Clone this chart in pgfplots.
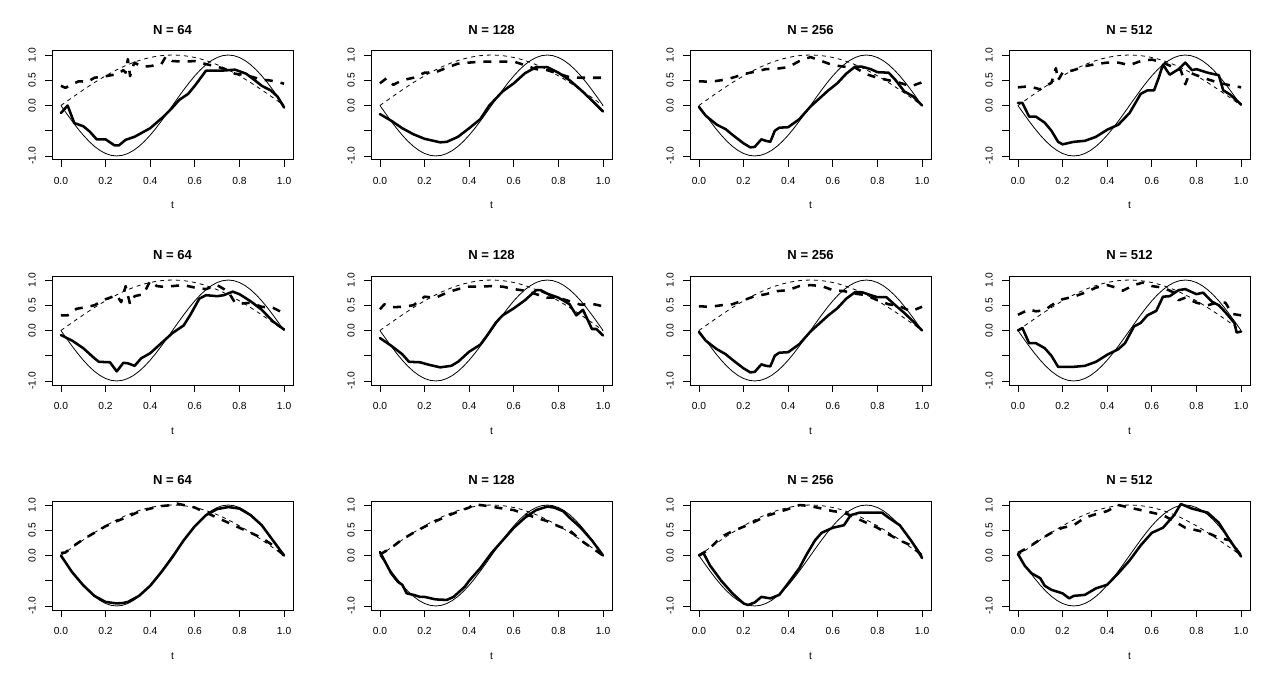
\documentclass[border=0pt]{standalone}
\usepackage{fontspec}
\setmainfont{Liberation Sans}
\usepackage{pgfplots}
\usepackage{pgfplotstable}
\pgfplotsset{compat=1.18}

% true curves, tabulated
\pgfplotstableread{
t     f        g
0     0        0
0.025 -0.1564  0.0785
0.05  -0.3090  0.1564
0.075 -0.4540  0.2334
0.1   -0.5878  0.3090
0.125 -0.7071  0.3827
0.15  -0.8090  0.4540
0.175 -0.8910  0.5225
0.2   -0.9511  0.5878
0.225 -0.9877  0.6494
0.25  -1       0.7071
0.275 -0.9877  0.7604
0.3   -0.9511  0.8090
0.325 -0.8910  0.8526
0.35  -0.8090  0.8910
0.375 -0.7071  0.9239
0.4   -0.5878  0.9511
0.425 -0.4540  0.9724
0.45  -0.3090  0.9877
0.475 -0.1564  0.9969
0.5   0        1
0.525 0.1564   0.9969
0.55  0.3090   0.9877
0.575 0.4540   0.9724
0.6   0.5878   0.9511
0.625 0.7071   0.9239
0.65  0.8090   0.8910
0.675 0.8910   0.8526
0.7   0.9511   0.8090
0.725 0.9877   0.7604
0.75  1        0.7071
0.775 0.9877   0.6494
0.8   0.9511   0.5878
0.825 0.8910   0.5225
0.85  0.8090   0.4540
0.875 0.7071   0.3827
0.9   0.5878   0.3090
0.925 0.4540   0.2334
0.95  0.3090   0.1564
0.975 0.1564   0.0785
1     0        0
}\truth

\pgfplotsset{
  rpanel/.style={
    scale only axis, width=180.75pt, height=81.75pt,
    anchor=south west,
    xmin=-0.04, xmax=1.04, ymin=-1.08, ymax=1.08,
    xtick={0,0.2,0.4,0.6,0.8,1}, xticklabels={0.0,0.2,0.4,0.6,0.8,1.0},
    ytick={-1,-0.5,0,0.5,1}, yticklabels={-1.0,{},0.0,0.5,1.0},
    tick align=outside, xtick pos=left, ytick pos=left,
    major tick length=5.25pt,
    major tick style={black, line width=0.6pt},
    axis line style={black, line width=0.75pt},
    ticklabel style={font=\fontsize{7.7}{9}\selectfont},
    yticklabel style={rotate=90, anchor=south},
    xticklabel shift=4pt, yticklabel shift=3.5pt,
    xlabel=t,
    xlabel style={at={(axis description cs:0.5,0)}, anchor=base, yshift=-36.75pt,
      font=\fontsize{7.7}{9}\selectfont},
    title style={at={(axis description cs:0.5,1)}, anchor=base, yshift=6.5pt,
      font=\fontsize{9.8}{11}\selectfont\bfseries},
  },
  truef/.style={black, line width=0.6pt},
  trueg/.style={black, line width=0.6pt, dash pattern=on 3pt off 3pt},
  estf/.style={black, line width=1.9pt, line join=round, line cap=round},
  estg/.style={black, line width=1.9pt, line join=round, dash pattern=on 6pt off 6pt},
}

\begin{document}
\begin{tikzpicture}
\path[use as bounding box] (0,0) rectangle (957pt,506.25pt);

% ---------- row 1 ----------
\begin{axis}[rpanel, at={(39pt,386.25pt)}, title={N = 64}]
\addplot[truef] table[x=t,y=f] {\truth};
\addplot[trueg] table[x=t,y=g] {\truth};
\addplot[estf] coordinates {(0,-0.15) (0.03,0.0) (0.06,-0.35) (0.1,-0.41) (0.13,-0.52) (0.16,-0.67) (0.2,-0.67) (0.24,-0.79) (0.26,-0.79) (0.29,-0.68) (0.33,-0.62) (0.4,-0.45) (0.46,-0.22) (0.5,-0.04) (0.53,0.11) (0.57,0.23) (0.6,0.39) (0.65,0.69) (0.72,0.69) (0.78,0.71) (0.83,0.63) (0.86,0.53) (0.9,0.39) (0.94,0.3) (0.97,0.18) (1,-0.04)};
\addplot[estg] coordinates {(0,0.39) (0.02,0.35) (0.05,0.42) (0.08,0.48) (0.12,0.47) (0.15,0.55) (0.2,0.58) (0.25,0.62) (0.28,0.7) (0.29,0.65) (0.3,0.92) (0.31,0.58) (0.32,0.75) (0.33,0.85) (0.36,0.77) (0.4,0.78) (0.45,0.82) (0.47,0.97) (0.5,0.88) (0.55,0.87) (0.6,0.88) (0.65,0.82) (0.7,0.77) (0.75,0.7) (0.78,0.63) (0.83,0.6) (0.87,0.55) (0.9,0.51) (0.93,0.5) (0.97,0.47) (1,0.43)};
\end{axis}

\begin{axis}[rpanel, at={(278.25pt,386.25pt)}, title={N = 128}]
\addplot[truef] table[x=t,y=f] {\truth};
\addplot[trueg] table[x=t,y=g] {\truth};
\addplot[estf] coordinates {(0,-0.17) (0.05,-0.3) (0.1,-0.45) (0.15,-0.57) (0.2,-0.66) (0.27,-0.73) (0.3,-0.72) (0.35,-0.62) (0.4,-0.45) (0.45,-0.27) (0.49,0) (0.55,0.28) (0.6,0.44) (0.65,0.64) (0.7,0.76) (0.75,0.76) (0.8,0.65) (0.85,0.5) (0.9,0.31) (0.95,0.1) (1,-0.12)};
\addplot[estg] coordinates {(0,0.44) (0.03,0.54) (0.06,0.41) (0.1,0.5) (0.15,0.55) (0.2,0.65) (0.25,0.66) (0.3,0.75) (0.35,0.83) (0.4,0.85) (0.45,0.87) (0.5,0.87) (0.55,0.87) (0.6,0.87) (0.65,0.8) (0.7,0.72) (0.75,0.7) (0.8,0.63) (0.85,0.56) (0.9,0.55) (0.95,0.55) (1,0.55)};
\end{axis}

\begin{axis}[rpanel, at={(517.5pt,386.25pt)}, title={N = 256}]
\addplot[truef] table[x=t,y=f] {\truth};
\addplot[trueg] table[x=t,y=g] {\truth};
\addplot[estf] coordinates {(0,-0.03) (0.03,-0.2) (0.08,-0.38) (0.12,-0.47) (0.15,-0.58) (0.2,-0.75) (0.23,-0.83) (0.25,-0.82) (0.28,-0.67) (0.3,-0.7) (0.32,-0.72) (0.34,-0.5) (0.36,-0.44) (0.4,-0.43) (0.45,-0.27) (0.5,-0.02) (0.55,0.18) (0.58,0.3) (0.62,0.44) (0.66,0.63) (0.7,0.77) (0.73,0.77) (0.77,0.72) (0.8,0.66) (0.85,0.65) (0.88,0.51) (0.92,0.28) (0.96,0.18) (1,0)};
\addplot[estg] coordinates {(0,0.48) (0.05,0.47) (0.1,0.5) (0.15,0.55) (0.2,0.62) (0.25,0.67) (0.3,0.72) (0.35,0.73) (0.4,0.76) (0.45,0.88) (0.5,0.96) (0.55,0.88) (0.6,0.8) (0.65,0.77) (0.7,0.75) (0.75,0.62) (0.8,0.55) (0.85,0.5) (0.9,0.45) (0.95,0.38) (1,0.46)};
\end{axis}

\begin{axis}[rpanel, at={(756.75pt,386.25pt)}, title={N = 512}]
\addplot[truef] table[x=t,y=f] {\truth};
\addplot[trueg] table[x=t,y=g] {\truth};
\addplot[estf] coordinates {(0,0.05) (0.02,0.05) (0.05,-0.22) (0.08,-0.22) (0.12,-0.34) (0.15,-0.5) (0.18,-0.72) (0.2,-0.77) (0.25,-0.72) (0.3,-0.7) (0.35,-0.62) (0.4,-0.48) (0.45,-0.38) (0.5,-0.15) (0.52,0) (0.55,0.23) (0.58,0.3) (0.61,0.3) (0.63,0.54) (0.65,0.81) (0.68,0.61) (0.72,0.72) (0.75,0.85) (0.78,0.7) (0.8,0.72) (0.85,0.65) (0.9,0.6) (0.92,0.3) (0.95,0.22) (1,0.02)};
\addplot[estg] coordinates {(0,0.36) (0.05,0.38) (0.1,0.32) (0.15,0.45) (0.17,0.74) (0.18,0.5) (0.2,0.65) (0.25,0.7) (0.3,0.78) (0.35,0.82) (0.4,0.85) (0.45,0.85) (0.5,0.8) (0.55,0.88) (0.6,0.91) (0.65,0.85) (0.7,0.75) (0.73,0.7) (0.75,0.42) (0.77,0.65) (0.8,0.6) (0.85,0.52) (0.9,0.45) (0.95,0.4) (1,0.36)};
\end{axis}

% ---------- row 2 ----------
\begin{axis}[rpanel, at={(39pt,217.5pt)}, title={N = 64}]
\addplot[truef] table[x=t,y=f] {\truth};
\addplot[trueg] table[x=t,y=g] {\truth};
\addplot[estf] coordinates {(0,-0.09) (0.05,-0.2) (0.1,-0.35) (0.15,-0.55) (0.17,-0.62) (0.22,-0.63) (0.25,-0.81) (0.28,-0.64) (0.3,-0.65) (0.33,-0.7) (0.36,-0.55) (0.4,-0.45) (0.45,-0.25) (0.5,-0.05) (0.55,0.1) (0.58,0.31) (0.62,0.63) (0.65,0.7) (0.7,0.68) (0.73,0.7) (0.77,0.77) (0.8,0.72) (0.85,0.58) (0.9,0.41) (0.95,0.18) (1,0.02)};
\addplot[estg] coordinates {(0,0.3) (0.03,0.3) (0.07,0.43) (0.12,0.47) (0.15,0.5) (0.2,0.62) (0.25,0.7) (0.27,0.56) (0.29,0.88) (0.31,0.52) (0.33,0.68) (0.37,0.72) (0.4,0.98) (0.43,0.88) (0.45,0.87) (0.5,0.88) (0.55,0.9) (0.6,0.85) (0.65,0.82) (0.7,0.9) (0.75,0.77) (0.78,0.55) (0.8,0.53) (0.85,0.55) (0.9,0.47) (0.95,0.45) (1,0.34)};
\end{axis}

\begin{axis}[rpanel, at={(278.25pt,217.5pt)}, title={N = 128}]
\addplot[truef] table[x=t,y=f] {\truth};
\addplot[trueg] table[x=t,y=g] {\truth};
\addplot[estf] coordinates {(0,-0.15) (0.05,-0.3) (0.1,-0.47) (0.13,-0.62) (0.18,-0.63) (0.22,-0.68) (0.27,-0.73) (0.32,-0.7) (0.35,-0.62) (0.4,-0.42) (0.45,-0.28) (0.48,-0.1) (0.52,0.16) (0.55,0.3) (0.6,0.44) (0.65,0.6) (0.7,0.8) (0.72,0.8) (0.75,0.73) (0.8,0.65) (0.85,0.52) (0.88,0.3) (0.91,0.41) (0.95,0.03) (0.97,0.03) (1,-0.1)};
\addplot[estg] coordinates {(0,0.42) (0.02,0.52) (0.05,0.46) (0.1,0.47) (0.15,0.5) (0.2,0.67) (0.25,0.65) (0.3,0.75) (0.35,0.82) (0.4,0.87) (0.45,0.87) (0.5,0.88) (0.55,0.87) (0.6,0.82) (0.65,0.79) (0.7,0.72) (0.75,0.65) (0.8,0.65) (0.85,0.58) (0.9,0.51) (0.95,0.53) (1,0.48)};
\end{axis}

\begin{axis}[rpanel, at={(517.5pt,217.5pt)}, title={N = 256}]
\addplot[truef] table[x=t,y=f] {\truth};
\addplot[trueg] table[x=t,y=g] {\truth};
\addplot[estf] coordinates {(0,-0.03) (0.03,-0.2) (0.08,-0.37) (0.12,-0.47) (0.15,-0.58) (0.2,-0.75) (0.23,-0.83) (0.25,-0.82) (0.28,-0.67) (0.3,-0.7) (0.32,-0.71) (0.34,-0.5) (0.36,-0.44) (0.4,-0.43) (0.45,-0.27) (0.5,-0.02) (0.55,0.18) (0.58,0.3) (0.62,0.44) (0.66,0.63) (0.7,0.76) (0.73,0.76) (0.77,0.7) (0.8,0.66) (0.84,0.66) (0.88,0.5) (0.92,0.35) (0.96,0.18) (1,0)};
\addplot[estg] coordinates {(0,0.48) (0.05,0.47) (0.1,0.5) (0.15,0.52) (0.2,0.6) (0.25,0.68) (0.3,0.72) (0.35,0.78) (0.4,0.8) (0.45,0.88) (0.5,0.9) (0.55,0.88) (0.6,0.8) (0.65,0.78) (0.7,0.73) (0.75,0.7) (0.8,0.6) (0.85,0.52) (0.9,0.48) (0.95,0.38) (1,0.47)};
\end{axis}

\begin{axis}[rpanel, at={(756.75pt,217.5pt)}, title={N = 512}]
\addplot[truef] table[x=t,y=f] {\truth};
\addplot[trueg] table[x=t,y=g] {\truth};
\addplot[estf] coordinates {(0,0) (0.02,0.05) (0.05,-0.25) (0.08,-0.25) (0.12,-0.35) (0.15,-0.5) (0.18,-0.72) (0.2,-0.72) (0.25,-0.72) (0.3,-0.7) (0.35,-0.62) (0.4,-0.48) (0.45,-0.37) (0.48,-0.25) (0.52,0.08) (0.55,0.15) (0.58,0.3) (0.62,0.39) (0.65,0.67) (0.68,0.68) (0.72,0.8) (0.75,0.82) (0.8,0.72) (0.83,0.75) (0.87,0.57) (0.9,0.5) (0.93,0.36) (0.97,0.15) (0.98,-0.04) (1,-0.02)};
\addplot[estg] coordinates {(0,0.31) (0.05,0.42) (0.08,0.38) (0.12,0.4) (0.15,0.5) (0.2,0.62) (0.25,0.67) (0.3,0.75) (0.35,0.85) (0.4,0.9) (0.44,0.85) (0.47,0.79) (0.52,0.9) (0.56,0.95) (0.6,0.88) (0.65,0.85) (0.7,0.75) (0.72,0.6) (0.75,0.65) (0.8,0.55) (0.85,0.5) (0.9,0.56) (0.93,0.55) (0.96,0.33) (1,0.3)};
\end{axis}

% ---------- row 3 ----------
\begin{axis}[rpanel, at={(39pt,48.75pt)}, title={N = 64}]
\addplot[truef] table[x=t,y=f] {\truth};
\addplot[trueg] table[x=t,y=g] {\truth};
\addplot[estf] coordinates {(0,0) (0.05,-0.33) (0.1,-0.59) (0.15,-0.8) (0.2,-0.92) (0.25,-0.95) (0.28,-0.94) (0.3,-0.92) (0.35,-0.8) (0.4,-0.6) (0.45,-0.33) (0.5,-0.03) (0.55,0.3) (0.6,0.58) (0.65,0.8) (0.7,0.92) (0.75,0.96) (0.8,0.93) (0.85,0.8) (0.9,0.6) (0.95,0.3) (1,0)};
\addplot[estg] coordinates {(0,0.05) (0.02,0.06) (0.05,0.17) (0.1,0.32) (0.15,0.45) (0.2,0.58) (0.25,0.68) (0.3,0.77) (0.35,0.87) (0.4,0.93) (0.45,0.98) (0.5,1.0) (0.52,1.03) (0.55,1.0) (0.6,0.95) (0.65,0.85) (0.7,0.75) (0.75,0.65) (0.8,0.55) (0.85,0.45) (0.9,0.35) (0.95,0.2) (1,0)};
\end{axis}

\begin{axis}[rpanel, at={(278.25pt,48.75pt)}, title={N = 128}]
\addplot[truef] table[x=t,y=f] {\truth};
\addplot[trueg] table[x=t,y=g] {\truth};
\addplot[estf] coordinates {(0,0.07) (0.03,-0.18) (0.05,-0.35) (0.08,-0.52) (0.1,-0.58) (0.12,-0.75) (0.15,-0.78) (0.18,-0.82) (0.2,-0.82) (0.25,-0.87) (0.3,-0.88) (0.33,-0.82) (0.38,-0.62) (0.4,-0.5) (0.45,-0.25) (0.5,0.05) (0.55,0.3) (0.6,0.55) (0.65,0.75) (0.7,0.9) (0.75,0.97) (0.78,0.95) (0.82,0.88) (0.85,0.75) (0.9,0.55) (0.95,0.3) (1,0)};
\addplot[estg] coordinates {(0,0.02) (0.05,0.15) (0.1,0.32) (0.15,0.45) (0.2,0.57) (0.25,0.68) (0.3,0.78) (0.35,0.87) (0.4,0.95) (0.42,1.02) (0.45,1.0) (0.5,0.97) (0.55,0.93) (0.6,0.9) (0.65,0.82) (0.7,0.75) (0.75,0.68) (0.8,0.58) (0.85,0.5) (0.88,0.38) (0.9,0.3) (0.95,0.15) (1,0)};
\end{axis}

\begin{axis}[rpanel, at={(517.5pt,48.75pt)}, title={N = 256}]
\addplot[truef] table[x=t,y=f] {\truth};
\addplot[trueg] table[x=t,y=g] {\truth};
\addplot[estf] coordinates {(0,0) (0.02,0.05) (0.05,-0.2) (0.1,-0.5) (0.15,-0.75) (0.2,-0.95) (0.22,-0.98) (0.25,-0.93) (0.28,-0.82) (0.32,-0.85) (0.36,-0.78) (0.4,-0.55) (0.45,-0.25) (0.48,0) (0.52,0.3) (0.55,0.45) (0.6,0.55) (0.65,0.6) (0.68,0.8) (0.72,0.85) (0.78,0.85) (0.82,0.85) (0.85,0.75) (0.9,0.6) (0.95,0.3) (0.98,0.1) (1,-0.05)};
\addplot[estg] coordinates {(0,0) (0.03,0.08) (0.05,0.15) (0.1,0.37) (0.15,0.48) (0.2,0.57) (0.25,0.67) (0.3,0.78) (0.35,0.85) (0.4,0.92) (0.45,1.0) (0.5,0.98) (0.55,0.93) (0.6,0.88) (0.65,0.85) (0.7,0.75) (0.75,0.65) (0.8,0.55) (0.85,0.42) (0.9,0.3) (0.95,0.2) (1,0)};
\end{axis}

\begin{axis}[rpanel, at={(756.75pt,48.75pt)}, title={N = 512}]
\addplot[truef] table[x=t,y=f] {\truth};
\addplot[trueg] table[x=t,y=g] {\truth};
\addplot[estf] coordinates {(0,0.03) (0.03,-0.2) (0.06,-0.35) (0.1,-0.45) (0.12,-0.6) (0.15,-0.68) (0.2,-0.75) (0.23,-0.85) (0.25,-0.8) (0.3,-0.78) (0.35,-0.65) (0.4,-0.58) (0.45,-0.35) (0.5,-0.1) (0.55,0.2) (0.6,0.45) (0.65,0.55) (0.7,0.8) (0.73,1.02) (0.78,0.93) (0.85,0.85) (0.9,0.65) (0.95,0.3) (1,-0.02)};
\addplot[estg] coordinates {(0,0.05) (0.05,0.17) (0.1,0.32) (0.15,0.45) (0.2,0.55) (0.25,0.6) (0.3,0.75) (0.35,0.82) (0.4,0.88) (0.45,1.0) (0.5,0.95) (0.55,0.9) (0.6,0.85) (0.65,0.8) (0.7,0.68) (0.75,0.55) (0.8,0.5) (0.85,0.45) (0.9,0.35) (0.95,0.3) (1,0)};
\end{axis}

\end{tikzpicture}
\end{document}
